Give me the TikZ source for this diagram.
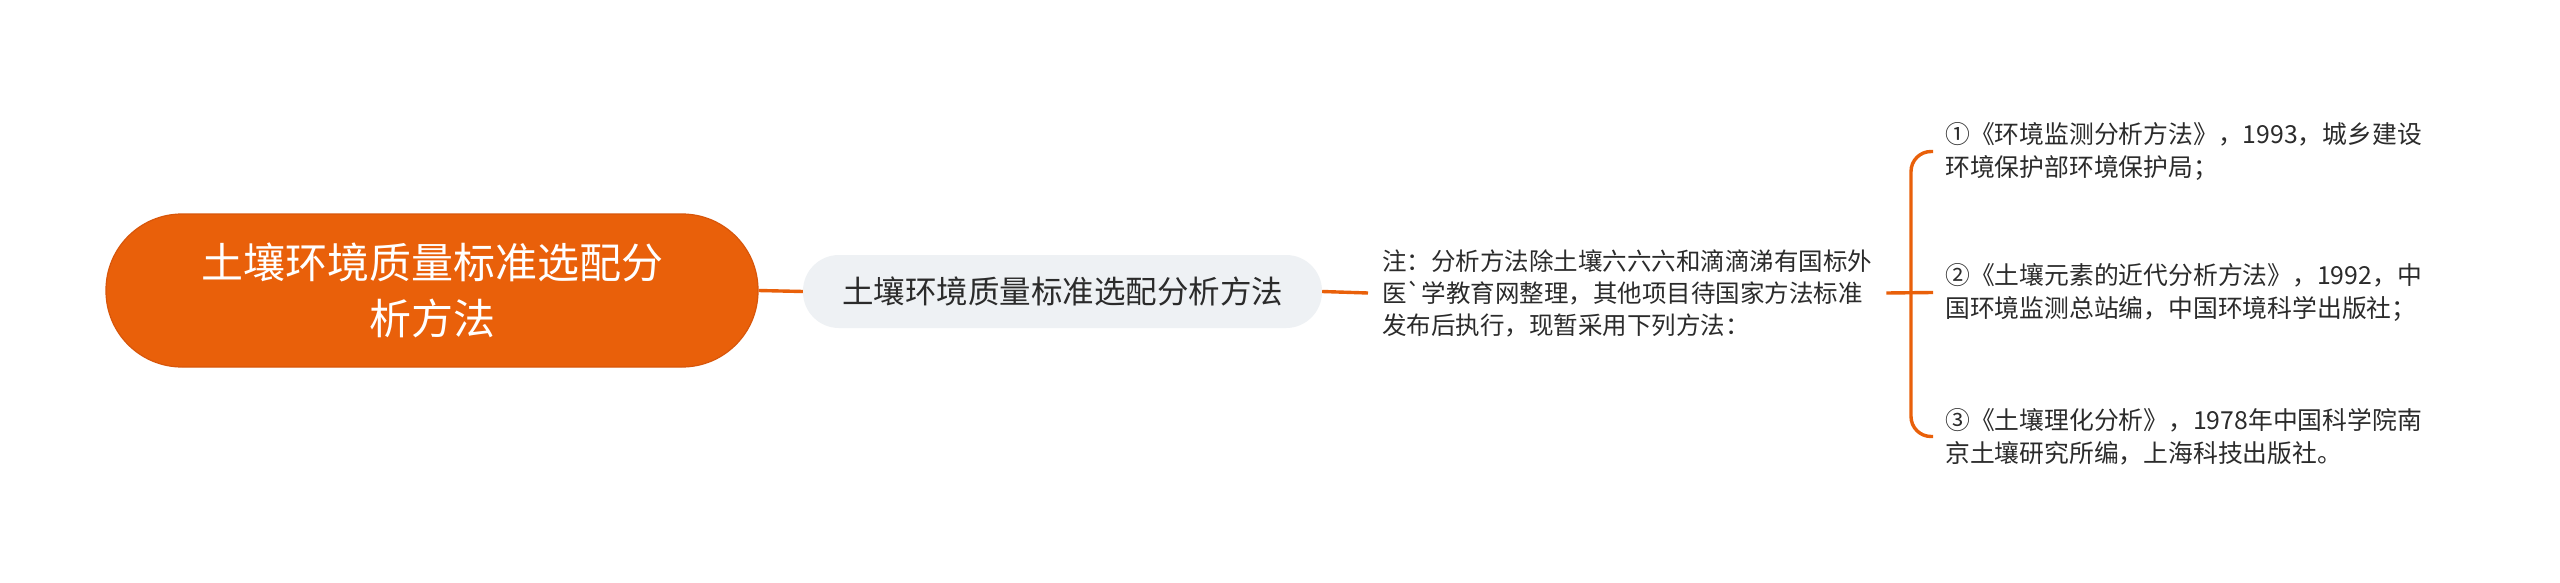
\documentclass[tikz,border=0pt]{standalone}
\usepackage{fontspec}
\newfontfamily\cjk{Noto Sans CJK SC}
\definecolor{org}{HTML}{E9600A}
\definecolor{orgdark}{HTML}{D8560A}
\definecolor{subgray}{HTML}{EEF1F4}
\definecolor{textc}{HTML}{2B2B2B}
\begin{document}
\begin{tikzpicture}[x=1pt,y=-1pt,
  conn/.style={draw=org, line width=3.4pt},
  rootbox/.style={fill=org, draw=orgdark, line width=1.2pt, rounded corners=76pt,
    minimum width=652pt, minimum height=153pt, inner sep=0pt, align=center,
    text=white, font=\cjk\fontsize{42}{56}\selectfont},
  subbox/.style={fill=subgray, rounded corners=36pt, minimum width=519pt,
    minimum height=73pt, inner sep=0pt, text=textc, font=\cjk\fontsize{31.5}{38}\selectfont},
  notebox/.style={anchor=west, align=left, inner xsep=14pt, inner ysep=0pt,
    text=textc, font=\cjk\fontsize{24.5}{32}\selectfont},
  itembox/.style={anchor=west, align=left, inner xsep=12pt, inner ysep=0pt,
    text=textc, font=\cjk\fontsize{24.8}{33}\selectfont}]
\useasboundingbox[fill=white] (0,0) rectangle (2560,583);

\node[rootbox] (root) at (432,290.5) {土壤环境质量标准选配分\\析方法};
\node[subbox] (sub) at (1062.5,291.5) {土壤环境质量标准选配分析方法};
\node[notebox] (note) at (1368,293) {注：分析方法除土壤六六六和滴滴涕有国标外\\医`学教育网整理，其他项目待国家方法标准\\发布后执行，现暂采用下列方法：};

\node[itembox] (i1) at (1933,151.5) {①《环境监测分析方法》，1993，城乡建设\\环境保护部环境保护局；};
\node[itembox] (i2) at (1933,292.5) {②《土壤元素的近代分析方法》，1992，中\\国环境监测总站编，中国环境科学出版社；};
\node[itembox] (i3) at (1933,436.5) {③《土壤理化分析》，1978年中国科学院南\\京土壤研究所编，上海科技出版社。};

\coordinate (bx) at (1911,292.5);

\draw[conn] (root.east) -- (sub.west);
\draw[conn] (sub.east) -- (note.west);
\draw[conn] (note.east) -- (i2.west);
\draw[conn, rounded corners=20pt] (i1.west) -| (bx) |- (i3.west);
\end{tikzpicture}
\end{document}
